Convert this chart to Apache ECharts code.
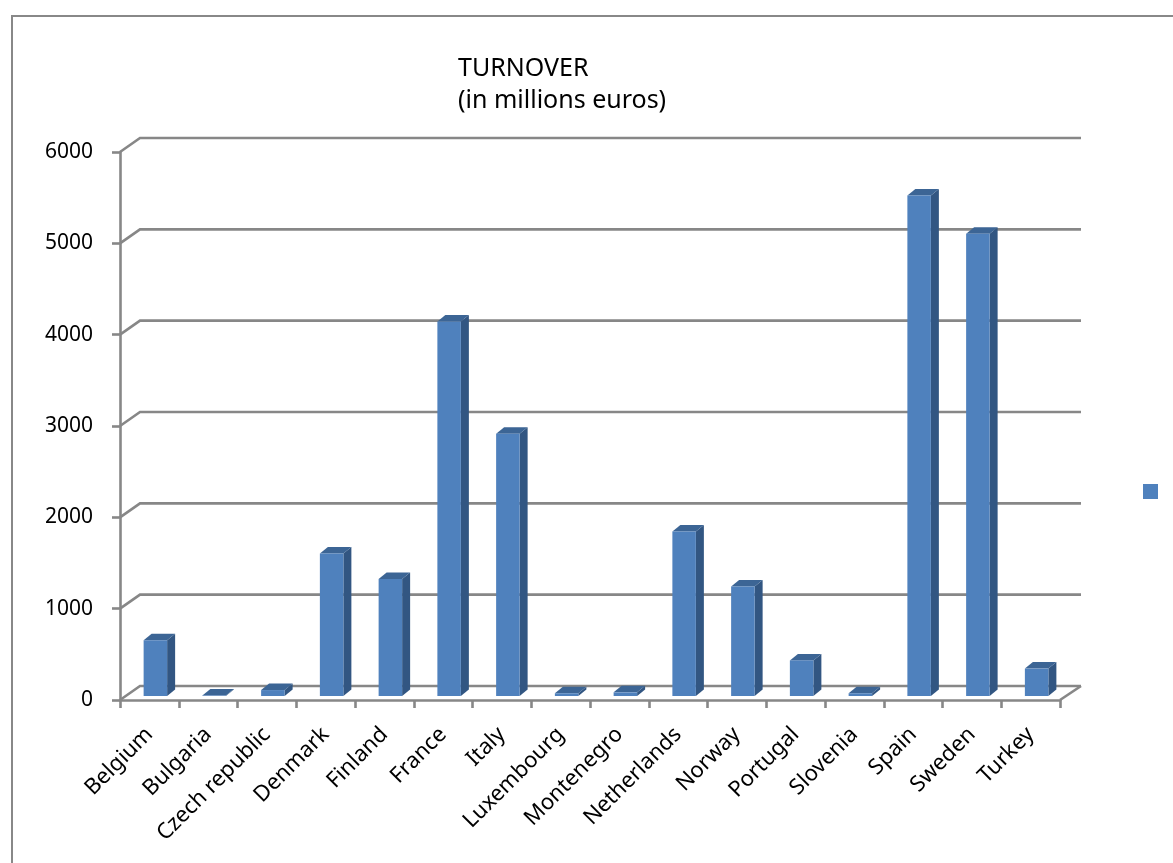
<!DOCTYPE html>
<html>
<head>
<meta charset="utf-8">
<title>Turnover</title>
<script src="https://cdn.jsdelivr.net/npm/echarts@6/dist/echarts.min.js"></script>
<style>
  html, body { margin: 0; padding: 0; background: #ffffff; }
  #chart { width: 1173px; height: 863px; }
</style>
</head>
<body>
<div id="chart"></div>
<script>
// Turnover per country, in millions of euros
const countries = ['Belgium', 'Bulgaria', 'Czech republic', 'Denmark', 'Finland', 'France',
  'Italy', 'Luxembourg', 'Montenegro', 'Netherlands', 'Norway', 'Portugal', 'Slovenia',
  'Spain', 'Sweden', 'Turkey'];
const turnover = [610, 5, 65, 1560, 1280, 4100, 2870, 30, 40, 1800, 1200, 390, 30, 5480, 5060, 300];
const yTicks = [0, 1000, 2000, 3000, 4000, 5000, 6000];

const GRID_COLOR = '#878787';
const FRONT = '#4F81BD';
const SIDE = '#325682';
const TOP = '#3C6595';
const FONT = '"Noto Sans", "Open Sans", sans-serif';

// pseudo-3D depth of the back wall and of the bars
const WALL_DX = 20, WALL_DY = -14;
const BAR_SHIFT_X = 6, BAR_SHIFT_Y = -4;
const BAR_DX = 8, BAR_DY = -6.5;

const chart = echarts.init(document.getElementById('chart'), null, { renderer: 'canvas' });

function renderWall(params, api) {
  const cs = params.coordSys;
  const v = api.value(1);
  const y = api.coord([0, v])[1];
  const L = cs.x, R = cs.x + cs.width;
  const style = { stroke: GRID_COLOR, lineWidth: 2.6, fill: null };
  const children = [
    { type: 'polyline', shape: { points: [[L, y], [L + WALL_DX, y + WALL_DY], [R + WALL_DX + 1, y + WALL_DY]] }, style }
  ];
  if (v === 0) {
    children.push({ type: 'line', shape: { x1: R, y1: y, x2: R + WALL_DX + 1, y2: y + WALL_DY }, style });
  }
  return { type: 'group', children };
}

function renderBar(params, api) {
  const idx = api.value(0);
  const val = api.value(1);
  const base = api.coord([idx, 0]);
  const top = api.coord([idx, val]);
  const band = api.size([1, 0])[0];
  const half = band * 0.2;
  const cx = base[0] + BAR_SHIFT_X;
  const x0 = cx - half, x1 = cx + half;
  const y0 = base[1] + BAR_SHIFT_Y;
  const y1 = top[1] + BAR_SHIFT_Y;
  return {
    type: 'group',
    children: [
      { type: 'polygon', shape: { points: [[x1, y1], [x1 + BAR_DX, y1 + BAR_DY], [x1 + BAR_DX, y0 + BAR_DY], [x1, y0]] },
        style: { fill: SIDE } },
      { type: 'polygon', shape: { points: [[x0, y1], [x0 + BAR_DX, y1 + BAR_DY], [x1 + BAR_DX, y1 + BAR_DY], [x1, y1]] },
        style: { fill: TOP } },
      { type: 'rect', shape: { x: x0, y: y1, width: x1 - x0, height: y0 - y1 },
        style: { fill: FRONT } }
    ]
  };
}

const option = {
  backgroundColor: '#ffffff',
  animation: false,
  title: {
    text: 'TURNOVER\n(in millions euros)',
    left: 453,
    top: 48,
    textStyle: { fontFamily: FONT, fontSize: 25, fontWeight: 'normal', color: '#000', lineHeight: 32 }
  },
  legend: {
    data: [{ name: 'Turnover', icon: 'rect' }],
    left: 1138,
    top: 479,
    itemWidth: 15,
    itemHeight: 15,
    formatter: () => '',
    selectedMode: false
  },
  grid: { left: 120, right: 113, top: 152, bottom: 163, containLabel: false },
  xAxis: {
    type: 'category',
    data: countries,
    boundaryGap: true,
    axisLine: { show: true, lineStyle: { color: GRID_COLOR, width: 2.6 } },
    axisTick: { show: true, length: 8, lineStyle: { color: GRID_COLOR, width: 2.6 } },
    axisLabel: { rotate: 45, margin: 31, interval: 0, fontFamily: FONT, fontSize: 22, color: '#000' },
    splitLine: { show: false }
  },
  yAxis: {
    type: 'value',
    min: 0,
    max: 6000,
    interval: 1000,
    axisLine: { show: true, lineStyle: { color: GRID_COLOR, width: 2.6 } },
    axisTick: { show: true, length: 8, lineStyle: { color: GRID_COLOR, width: 2.6 } },
    axisLabel: { margin: 27, fontFamily: FONT, fontSize: 21, color: '#000', formatter: v => String(v) },
    splitLine: { show: false }
  },
  series: [
    {
      name: 'walls',
      type: 'custom',
      z: 1,
      silent: true,
      renderItem: renderWall,
      data: yTicks.map(t => [0, t])
    },
    {
      name: 'Turnover',
      type: 'custom',
      z: 3,
      itemStyle: { color: FRONT },
      renderItem: renderBar,
      data: turnover.map((v, i) => [i, v])
    }
  ],
  graphic: [
    {
      type: 'rect',
      silent: true,
      z: 100,
      shape: { x: 12, y: 16, width: 1300, height: 1000 },
      style: { fill: null, stroke: '#888888', lineWidth: 2 }
    }
  ]
};

chart.setOption(option);
</script>
</body>
</html>
